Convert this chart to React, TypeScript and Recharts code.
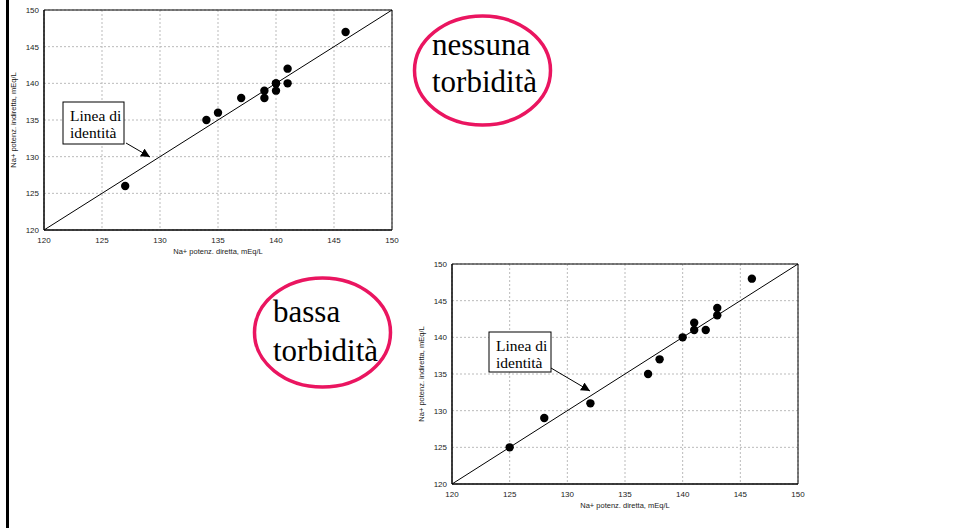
import React from 'react';
import {
  ScatterChart,
  Scatter,
  XAxis,
  YAxis,
  CartesianGrid,
  ReferenceLine,
  ReferenceArea,
} from 'recharts';

const TICKS: number[] = [120, 125, 130, 135, 140, 145, 150];
const DOMAIN: [number, number] = [120, 150];

// nessuna torbidità
const noneDirect: number[] = [127, 134, 135, 137, 139, 139, 140, 140, 140, 141, 141, 146];
const noneIndirect: number[] = [126, 135, 136, 138, 139, 138, 140, 140, 139, 142, 140, 147];

// bassa torbidità
const lowDirect: number[] = [125, 128, 132, 137, 138, 140, 141, 141, 142, 143, 143, 146];
const lowIndirect: number[] = [125, 129, 131, 135, 137, 140, 142, 141, 141, 144, 143, 148];

const X_TITLE = 'Na+ potenz. diretta, mEq/L';
const Y_TITLE = 'Na+ potenz. indiretta, mEq/L';

const SANS = '"Liberation Sans", Arial, sans-serif';
const SERIF = '"Liberation Serif", "Times New Roman", serif';
const PINK = '#ea1560';

interface Point {
  x: number;
  y: number;
}

const toPoints = (xs: number[], ys: number[]): Point[] => xs.map((x, i) => ({ x, y: ys[i] }));

const Dot = (props: any) => <circle cx={props.cx} cy={props.cy} r={4.2} fill="#000" />;

const YTitle = (props: any) => {
  const vb = props.viewBox;
  const cx = vb.x - 1;
  const cy = vb.y + vb.height / 2;
  return (
    <text
      x={cx}
      y={cy}
      transform={`rotate(-90 ${cx} ${cy})`}
      textAnchor="middle"
      dominantBaseline="central"
      fontSize={7.5}
      fontFamily={SANS}
      fill="#222"
    >
      {Y_TITLE}
    </text>
  );
};

interface PlotProps {
  data: Point[];
  left: number;
  top: number;
  width: number;
}

function IdentityPlot({ data, left, top, width }: PlotProps) {
  const tickStyle = { fontSize: 8, fontFamily: SANS, fill: '#222' };
  return (
    <div style={{ position: 'absolute', left, top }}>
      <ScatterChart width={width} height={262} margin={{ top: 10, right: 8, bottom: 8, left: 14 }}>
        <CartesianGrid stroke="#bbb" strokeDasharray="2 2" />
        <XAxis
          type="number"
          dataKey="x"
          domain={DOMAIN}
          ticks={TICKS}
          height={24}
          tickSize={3}
          tickMargin={4}
          tickLine={false}
          axisLine={{ stroke: '#000' }}
          tick={tickStyle}
          label={{ value: X_TITLE, position: 'insideBottom', offset: 0, fontSize: 7.5, fontFamily: SANS, fill: '#222' }}
        />
        <YAxis
          type="number"
          dataKey="y"
          domain={DOMAIN}
          ticks={TICKS}
          width={30}
          tickSize={2}
          tickMargin={3}
          tickLine={false}
          axisLine={{ stroke: '#000' }}
          tick={tickStyle}
          label={{ content: YTitle }}
        />
        <ReferenceArea x1={120} x2={150} y1={120} y2={150} fill="none" stroke="#000" strokeWidth={1} />
        <ReferenceLine
          segment={[
            { x: 120, y: 120 },
            { x: 150, y: 150 },
          ]}
          stroke="#000"
          strokeWidth={1}
        />
        <Scatter data={data} shape={Dot} isAnimationActive={false} />
      </ScatterChart>
    </div>
  );
}

function Callout({ x, y, w, h, from, to }: { x: number; y: number; w: number; h: number; from: [number, number]; to: [number, number] }) {
  return (
    <g>
      <rect x={x} y={y} width={w} height={h} fill="#fff" stroke="#000" strokeWidth={1} />
      <text x={x + 7} y={y + 19} fontSize={15.5} fontFamily={SERIF} fill="#000">
        Linea di
      </text>
      <text x={x + 7} y={y + 36} fontSize={15.5} fontFamily={SERIF} fill="#000">
        identità
      </text>
      <line x1={from[0]} y1={from[1]} x2={to[0]} y2={to[1]} stroke="#000" strokeWidth={1} markerEnd="url(#arrow)" />
    </g>
  );
}

function Bubble({ cx, cy, line1, line2, tx, y1, y2 }: { cx: number; cy: number; line1: string; line2: string; tx: number; y1: number; y2: number }) {
  return (
    <g>
      <ellipse cx={cx} cy={cy} rx={68} ry={54.5} fill="#fff" stroke={PINK} strokeWidth={3.5} />
      <text x={tx} y={y1} fontSize={31} fontFamily={SERIF} fill="#000">
        {line1}
      </text>
      <text x={tx} y={y2} fontSize={31} fontFamily={SERIF} fill="#000">
        {line2}
      </text>
    </g>
  );
}

export default function App() {
  const none = toPoints(noneDirect, noneIndirect);
  const low = toPoints(lowDirect, lowIndirect);

  return (
    <div style={{ position: 'absolute', left: 0, top: 0, width: 953, height: 528, background: '#fff', overflow: 'hidden' }}>
      <div style={{ position: 'absolute', left: 6, top: 0, width: 2.5, height: 528, background: '#000' }} />
      <IdentityPlot data={none} left={0} top={0} width={400} />
      <IdentityPlot data={low} left={408} top={254} width={398} />
      <svg width={953} height={528} style={{ position: 'absolute', left: 0, top: 0, pointerEvents: 'none' }}>
        <defs>
          <marker id="arrow" viewBox="0 0 10 10" refX={10} refY={5} markerWidth={9} markerHeight={9} markerUnits="userSpaceOnUse" orient="auto">
            <path d="M0,0 L10,5 L0,10 z" fill="#000" />
          </marker>
        </defs>
        <Callout x={63} y={102} w={61} h={42} from={[126, 143]} to={[150, 157]} />
        <Callout x={489} y={332} w={62} h={40} from={[551, 368]} to={[590, 391]} />
        <Bubble cx={482.5} cy={70.5} line1="nessuna" line2="torbidità" tx={432} y1={55} y2={92} />
        <Bubble cx={322.5} cy={332.5} line1="bassa" line2="torbidità" tx={273} y1={322} y2={361} />
      </svg>
    </div>
  );
}
